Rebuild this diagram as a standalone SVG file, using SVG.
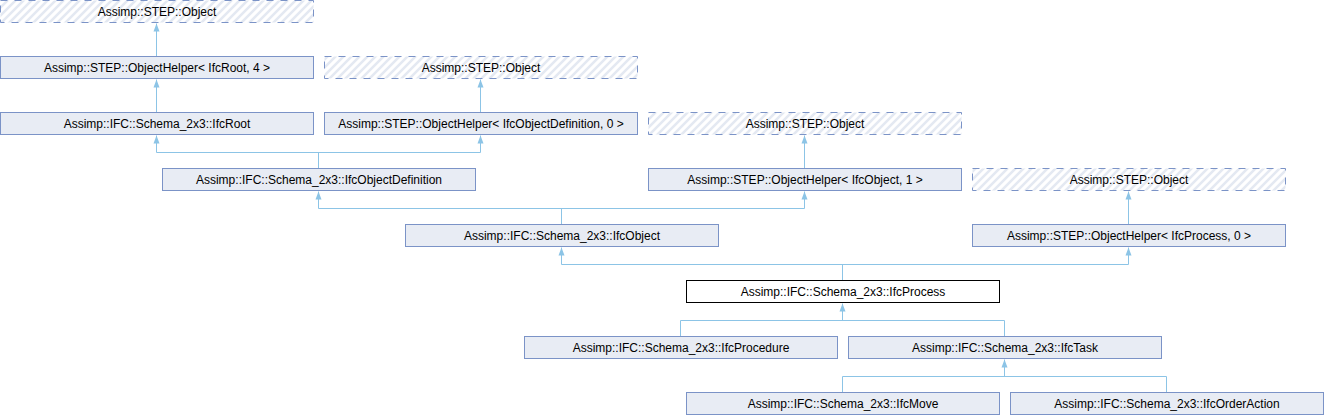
<svg xmlns="http://www.w3.org/2000/svg" width="1324" height="416" viewBox="0 0 1324 416">
<style>
.n{fill:#e8ecf4;stroke:#7b93c7;stroke-width:1}
.d{fill:url(#hatch);stroke:#7b93c7;stroke-width:1;stroke-dasharray:7,7}
.c{fill:#ffffff;stroke:#000000;stroke-width:1}
text{font-family:"Liberation Sans",Arial,sans-serif;font-size:12px;fill:#000;text-anchor:middle}
.e{fill:none;stroke:#8cc4e6;stroke-width:1}
</style>
<defs>
<pattern id="hatch" patternUnits="userSpaceOnUse" width="8" height="8">
<rect width="8" height="8" fill="#ffffff"/>
<path d="M-2,10 L10,-2 M-2,2 L2,-2 M6,10 L10,6" stroke="#e4e9f2" stroke-width="2.5"/>
</pattern>
<marker id="arr" viewBox="0 0 8 8" refX="8" refY="4" markerWidth="8" markerHeight="8" orient="auto" markerUnits="userSpaceOnUse">
<path d="M0,1 L8,4 L0,7 Z" fill="#8cc4e6"/>
</marker>
</defs>
<rect width="1324" height="416" fill="#ffffff"/>
<g id="edges">
<path class="e" d="M156.5,56 V23.5" marker-end="url(#arr)"/>
<path class="e" d="M156.5,112 V79.5" marker-end="url(#arr)"/>
<path class="e" d="M480.5,112 V79.5" marker-end="url(#arr)"/>
<path class="e" d="M318.5,168 V152.5 M156.5,152.5 H480.5"/>
<path class="e" d="M156.5,152.5 V135.5" marker-end="url(#arr)"/>
<path class="e" d="M480.5,152.5 V135.5" marker-end="url(#arr)"/>
<path class="e" d="M804.5,168 V135.5" marker-end="url(#arr)"/>
<path class="e" d="M561.5,224 V208.5 M318.5,208.5 H804.5"/>
<path class="e" d="M318.5,208.5 V191.5" marker-end="url(#arr)"/>
<path class="e" d="M804.5,208.5 V191.5" marker-end="url(#arr)"/>
<path class="e" d="M1128.5,224 V191.5" marker-end="url(#arr)"/>
<path class="e" d="M842.5,280 V264.5 M561.5,264.5 H1128.5"/>
<path class="e" d="M561.5,264.5 V247.5" marker-end="url(#arr)"/>
<path class="e" d="M1128.5,264.5 V247.5" marker-end="url(#arr)"/>
<path class="e" d="M680.5,336 V320.5 H1004.5 V336"/>
<path class="e" d="M842.5,320.5 V303.5" marker-end="url(#arr)"/>
<path class="e" d="M842.5,392 V376.5 H1166.5 V392"/>
<path class="e" d="M1004.5,376.5 V359.5" marker-end="url(#arr)"/>
</g>
<g id="obj0"><rect class="d" x="0.5" y="0.5" width="313" height="22"/><text x="157" y="16">Assimp::STEP::Object</text></g>
<g id="helperRoot"><rect class="n" x="0.5" y="56.5" width="313" height="22"/><text x="157" y="72">Assimp::STEP::ObjectHelper&lt; IfcRoot, 4 &gt;</text></g>
<g id="obj1"><rect class="d" x="324.5" y="56.5" width="313" height="22"/><text x="481" y="72">Assimp::STEP::Object</text></g>
<g id="ifcRoot"><rect class="n" x="0.5" y="112.5" width="313" height="22"/><text x="157" y="128">Assimp::IFC::Schema_2x3::IfcRoot</text></g>
<g id="helperObjDef"><rect class="n" x="324.5" y="112.5" width="313" height="22"/><text x="481" y="128">Assimp::STEP::ObjectHelper&lt; IfcObjectDefinition, 0 &gt;</text></g>
<g id="obj2"><rect class="d" x="648.5" y="112.5" width="313" height="22"/><text x="805" y="128">Assimp::STEP::Object</text></g>
<g id="ifcObjDef"><rect class="n" x="162.5" y="168.5" width="313" height="22"/><text x="319" y="184">Assimp::IFC::Schema_2x3::IfcObjectDefinition</text></g>
<g id="helperObj"><rect class="n" x="648.5" y="168.5" width="313" height="22"/><text x="805" y="184">Assimp::STEP::ObjectHelper&lt; IfcObject, 1 &gt;</text></g>
<g id="obj3"><rect class="d" x="972.5" y="168.5" width="313" height="22"/><text x="1129" y="184">Assimp::STEP::Object</text></g>
<g id="ifcObject"><rect class="n" x="405.5" y="224.5" width="313" height="22"/><text x="562" y="240">Assimp::IFC::Schema_2x3::IfcObject</text></g>
<g id="helperProcess"><rect class="n" x="972.5" y="224.5" width="313" height="22"/><text x="1129" y="240">Assimp::STEP::ObjectHelper&lt; IfcProcess, 0 &gt;</text></g>
<g id="ifcProcess"><rect class="c" x="686.5" y="280.5" width="313" height="22"/><text x="843" y="296">Assimp::IFC::Schema_2x3::IfcProcess</text></g>
<g id="ifcProcedure"><rect class="n" x="524.5" y="336.5" width="313" height="22"/><text x="681" y="352">Assimp::IFC::Schema_2x3::IfcProcedure</text></g>
<g id="ifcTask"><rect class="n" x="848.5" y="336.5" width="313" height="22"/><text x="1005" y="352">Assimp::IFC::Schema_2x3::IfcTask</text></g>
<g id="ifcMove"><rect class="n" x="686.5" y="392.5" width="313" height="22"/><text x="843" y="408">Assimp::IFC::Schema_2x3::IfcMove</text></g>
<g id="ifcOrderAction"><rect class="n" x="1010.5" y="392.5" width="313" height="22"/><text x="1167" y="408">Assimp::IFC::Schema_2x3::IfcOrderAction</text></g>
</svg>
